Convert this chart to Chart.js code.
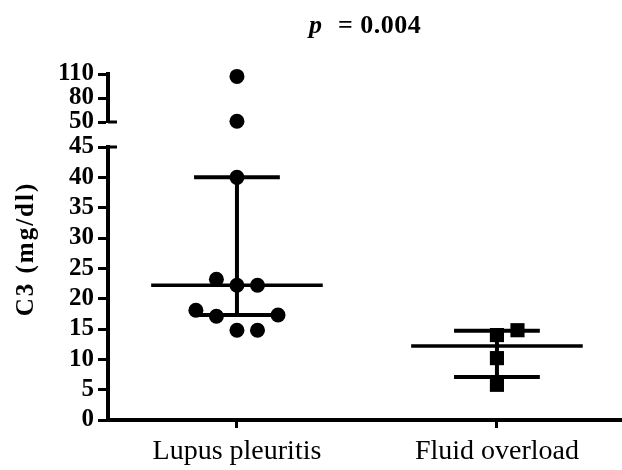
<!DOCTYPE html>
<html><head><meta charset="utf-8">
<script src="https://cdn.jsdelivr.net/npm/chart.js@4"></script>
<style>html,body{margin:0;padding:0;background:#fff;overflow:hidden}#wrap{position:relative;width:622px;height:470px}</style>
</head><body><div id="wrap"><canvas id="c" width="622" height="470" style="width:622px;height:470px"></canvas></div>
<script>
// ---- data ----
const categories = ['Lupus pleuritis', 'Fluid overload'];
const lupusValues = [107, 51, 40, 23.2, 22.2, 22.2, 18.1, 17.1, 17.3, 14.8, 14.8];
const fluidValues = [14.8, 14.0, 10.2, 5.8];
const medians = [22.2, 12.2];
const lowerBars = [17.3, 7.1];
const upperBars = [40, 14.7];
const lowerTicks = [0, 5, 10, 15, 20, 25, 30, 35, 40, 45];
const upperTicks = [50, 80, 110];
const titleParts = ['p', '= 0.004'];
const yTitle = 'C3 (mg/dl)';

// ---- layout helpers (style) ----
const lowerMax = lowerTicks[lowerTicks.length - 1];
const slotWidth = 0.079;      // horizontal spacing of jittered points, in category units
const unitsPerSlot = 3.38;    // value units equivalent to one slot (collision metric)

function swarm(values) {
  const order = values.map((v, i) => i).sort((a, b) => values[a] - values[b]);
  const cand = [0, 1, -1, 2, -2, 3, -3, 4, -4, 5, -5];
  const placed = [], slots = new Array(values.length).fill(0);
  for (const i of order) {
    for (const s of cand) {
      const ok = placed.every(p => Math.hypot(p.s - s, (p.v - values[i]) / unitsPerSlot) >= 1);
      if (ok) { slots[i] = s; placed.push({ s, v: values[i] }); break; }
    }
  }
  return slots;
}
function pointsFor(values, gi, onTop) {
  const slots = swarm(values);
  return values.map((v, i) => ({ x: gi + slots[i] * slotWidth, y: v, top: v > lowerMax }))
    .filter(p => p.top === onTop).map(p => ({ x: p.x, y: p.y }));
}

const serif = 'Liberation Serif';
const yTickFont = { family: serif, size: 25, weight: 'bold' };

const barsPlugin = {
  id: 'bars',
  beforeDatasetsDraw(chart) {
    const { ctx } = chart;
    const x = chart.scales.x, y = chart.scales.yLow;
    const unit = x.getPixelForValue(1) - x.getPixelForValue(0);
    ctx.save();
    ctx.strokeStyle = '#000';
    ctx.lineCap = 'butt';
    const seg = (x1, y1, x2, y2, w) => { ctx.lineWidth = w; ctx.beginPath(); ctx.moveTo(x1, y1); ctx.lineTo(x2, y2); ctx.stroke(); };
    categories.forEach((c, i) => {
      const px = x.getPixelForValue(i);
      const yl = y.getPixelForValue(lowerBars[i]), yu = y.getPixelForValue(upperBars[i]), ym = y.getPixelForValue(medians[i]);
      seg(px, yl, px, yu, 4);
      seg(px - 0.165 * unit, yl, px + 0.165 * unit, yl, 4);
      seg(px - 0.165 * unit, yu, px + 0.165 * unit, yu, 4);
      seg(px - 0.33 * unit, ym, px + 0.33 * unit, ym, 3.5);
    });
    ctx.restore();
  },
  afterDraw(chart) {
    const { ctx, chartArea } = chart;
    const yT = chart.scales.yTop, yL = chart.scales.yLow;
    const ax = yL.right;
    ctx.save();
    ctx.strokeStyle = '#000';
    ctx.lineWidth = 3;
    [yT.getPixelForValue(yT.min), yL.getPixelForValue(yL.max)].forEach(py => {
      ctx.beginPath(); ctx.moveTo(ax, py); ctx.lineTo(ax + 9, py); ctx.stroke();
    });
    // title
    ctx.fillStyle = '#000';
    ctx.textBaseline = 'alphabetic';
    ctx.textAlign = 'left';
    const cx = (chartArea.left + chartArea.right) / 2;
    ctx.font = 'italic bold 26px "' + serif + '"';
    ctx.fillText(titleParts[0], cx - 56, 33);
    try { ctx.letterSpacing = '0.5px'; } catch (e) {}
    ctx.font = 'bold 26px "' + serif + '"';
    ctx.fillText(titleParts[1], cx - 27, 33);
    // y title
    ctx.translate(33, 249);
    ctx.rotate(-Math.PI / 2);
    ctx.textAlign = 'center';
    try { ctx.letterSpacing = '2px'; } catch (e) {}
    ctx.font = 'bold 25px "' + serif + '"';
    ctx.fillText(yTitle, 0, 0);
    ctx.restore();
  }
};

const yCommon = {
  type: 'linear', position: 'left', stack: 'y',
  ticks: { color: '#000', font: yTickFont, padding: 4, autoSkip: false },
  grid: { drawOnChartArea: false, drawTicks: true, tickLength: 10, tickWidth: 3, color: '#000' },
  border: { display: true, width: 4, color: '#000' },
  afterFit: s => { s.width = 108; }
};

new Chart(document.getElementById('c'), {
  type: 'scatter',
  data: {
    datasets: [
      { data: pointsFor(lupusValues, 0, false), yAxisID: 'yLow', pointStyle: 'circle', pointRadius: 7.5, backgroundColor: '#000', borderWidth: 0, clip: false },
      { data: pointsFor(lupusValues, 0, true), yAxisID: 'yTop', pointStyle: 'circle', pointRadius: 7.5, backgroundColor: '#000', borderWidth: 0, clip: false },
      { data: pointsFor(fluidValues, 1, false), yAxisID: 'yLow', pointStyle: 'rect', pointRadius: 10, backgroundColor: '#000', borderWidth: 0, clip: false }
    ]
  },
  options: {
    responsive: false, animation: false, devicePixelRatio: 1,
    layout: { autoPadding: false, padding: { top: 74, left: 0, right: 0, bottom: 0 } },
    plugins: { legend: { display: false }, tooltip: { enabled: false }, title: { display: false } },
    scales: {
      x: {
        type: 'linear', position: 'bottom', min: -0.496, max: 1.481,
        afterBuildTicks: s => { s.ticks = categories.map((c, i) => ({ value: i })); },
        ticks: { callback: v => categories[v], color: '#000', font: { family: serif, size: 28 }, padding: 7, autoSkip: false, maxRotation: 0 },
        grid: { drawOnChartArea: false, drawTicks: true, tickLength: 8, tickWidth: 3, color: '#000' },
        border: { display: true, width: 4, color: '#000' },
        afterFit: s => { s.height = 50; }
      },
      yTop: Object.assign({}, yCommon, {
        stackWeight: 48, weight: 3, min: upperTicks[0], max: upperTicks[upperTicks.length - 1],
        afterBuildTicks: s => { s.ticks = upperTicks.map(v => ({ value: v })); }
      }),
      yGap: {
        type: 'linear', position: 'left', stack: 'y', stackWeight: 25, weight: 2, min: 0, max: 1,
        ticks: { display: false }, grid: { display: false }, border: { display: false },
        afterFit: s => { s.width = 108; }
      },
      yLow: Object.assign({}, yCommon, {
        stackWeight: 273, weight: 1, min: lowerTicks[0], max: lowerMax,
        afterBuildTicks: s => { s.ticks = lowerTicks.map(v => ({ value: v })); }
      })
    }
  },
  plugins: [barsPlugin]
});
</script></body></html>
